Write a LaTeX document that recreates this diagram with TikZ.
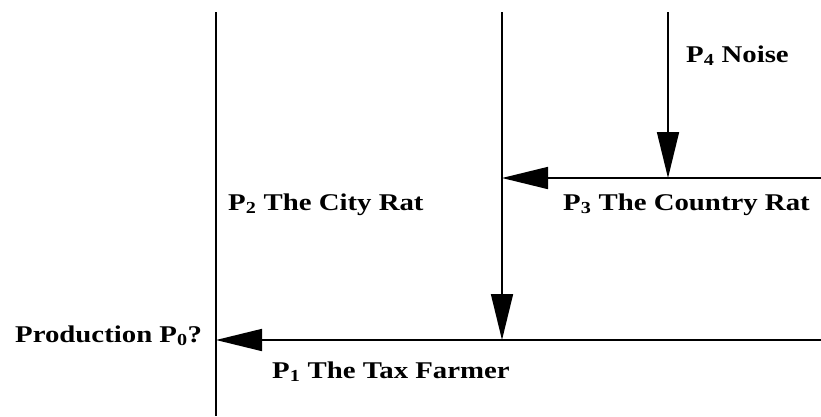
\documentclass[tikz,border=0pt]{standalone}
\usepackage{fontspec}
\setmainfont{Liberation Serif}[FakeStretch=1.2]
\usetikzlibrary{arrows.meta,positioning}
\tikzset{
  flow/.style={line width=1.7pt,-{Triangle[length=46pt,width=22pt]}},
  rule/.style={line width=1.7pt},
  tag/.style={inner sep=0pt,anchor=base west,font=\bfseries\fontsize{24}{28}\selectfont},
}
\newcommand{\sub}[1]{\textsubscript{#1}}

\begin{document}
\begin{tikzpicture}[x=1pt,y=-1pt]
  \useasboundingbox (0,0) rectangle (821,416);
  % ends of the lines
  \coordinate (cityTop) at (216,12);
  \coordinate (cityEnd) at (216,416);
  \coordinate (farmTop) at (502,12);
  \coordinate (farmIn) at (502,340);
  \coordinate (noiseTop) at (668,12);
  \coordinate (noiseIn) at (668,178);
  \coordinate (countryIn) at (502,178);
  \coordinate (countryEnd) at (821,178);
  \coordinate (prodIn) at (216,340);
  \coordinate (prodEnd) at (821,340);
  % lines and arrows
  \draw[rule] (cityTop) -- (cityEnd);
  \draw[flow] (farmTop) -- (farmIn);
  \draw[flow] (noiseTop) -- (noiseIn);
  \draw[flow] (countryEnd) -- (countryIn);
  \draw[flow] (prodEnd) -- (prodIn);
  % labels
  \node[tag] (noise) at (686,62) {P\sub{4} Noise};
  \node[tag] (city) at (228,210) {P\sub{2} The City Rat};
  \node[tag] (country) at (563,210) {P\sub{3} The Country Rat};
  \node[tag] (prod) at (15,342) {Production P\sub{0}?};
  \node[tag] (farmer) at (272,378) {P\sub{1} The Tax Farmer};
\end{tikzpicture}
\end{document}
